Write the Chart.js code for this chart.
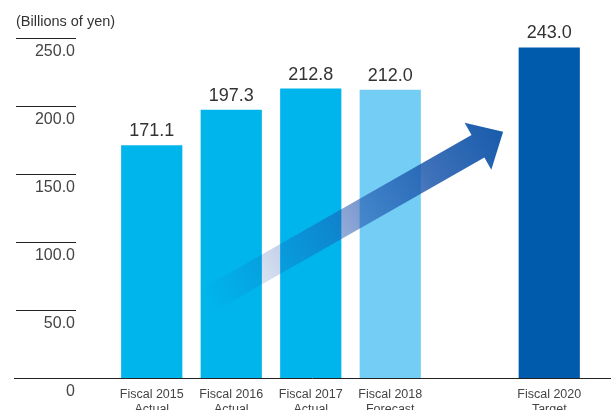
<!DOCTYPE html>
<html>
<head>
<meta charset="utf-8">
<script src="https://cdn.jsdelivr.net/npm/chart.js@4/dist/chart.umd.min.js"></script>
<style>
  html, body { margin: 0; padding: 0; background: #fff; }
</style>
</head>
<body>
<canvas id="grafico" width="611" height="410"></canvas>
<script>
// datos del gráfico
const categorias = [
  ["Fiscal 2015", "Actual"],
  ["Fiscal 2016", "Actual"],
  ["Fiscal 2017", "Actual"],
  ["Fiscal 2018", "Forecast"],
  ["", ""],
  ["Fiscal 2020", "Target"]
];
const valores = [171.1, 197.3, 212.8, 212.0, null, 243.0];
const colores = ["#00b5ec", "#00b5ec", "#00b5ec", "#73cdf4", "#ffffff", "#005bac"];
const ticksY = [0, 50, 100, 150, 200, 250];
const tituloY = "(Billions of yen)";

const fuente = "'Liberation Sans', Arial, sans-serif";

// líneas cortas de los ticks y la línea base
const lineasEje = {
  id: "lineasEje",
  afterDraw(chart) {
    const ctx = chart.ctx;
    const y = chart.scales.y;
    ctx.save();
    ctx.strokeStyle = "#222";
    ctx.lineWidth = 1;
    ticksY.forEach(v => {
      const py = Math.round(y.getPixelForValue(v)) + 0.5;
      ctx.beginPath();
      if (v === 0) {
        ctx.moveTo(14, py);
        ctx.lineTo(chart.width, py);
      } else {
        ctx.moveTo(16, py);
        ctx.lineTo(76, py);
      }
      ctx.stroke();
    });
    ctx.fillStyle = "#333";
    ctx.font = "14.5px " + fuente;
    ctx.textBaseline = "middle";
    ctx.textAlign = "left";
    ctx.fillText(tituloY, 16, 22);
    ctx.restore();
  }
};

// flecha con degradado (en coordenadas de las escalas)
const flecha = {
  id: "flecha",
  afterDatasetsDraw(chart) {
    const ctx = chart.ctx;
    const x = chart.scales.x;
    const y = chart.scales.y;
    const paso = x.getPixelForValue(1) - x.getPixelForValue(0);
    const x0 = x.getPixelForValue(0) + 0.70 * paso;
    const y0 = y.getPixelForValue(57);
    const x1 = x.getPixelForValue(0) + 4.42 * paso;
    const y1 = y.getPixelForValue(181);
    const ang = Math.atan2(y1 - y0, x1 - x0);
    const largo = Math.hypot(x1 - x0, y1 - y0);
    const cabeza = 29, mitadCabeza = 27, mitadAsta = 13;

    ctx.save();
    ctx.translate(x0, y0);
    ctx.rotate(ang);
    const g = ctx.createLinearGradient(0, 0, largo, 0);
    g.addColorStop(0, "rgba(30,80,172,0)");
    g.addColorStop(0.25, "rgba(30,80,172,0.25)");
    g.addColorStop(0.5, "rgba(30,80,172,0.55)");
    g.addColorStop(0.75, "rgba(28,88,172,0.85)");
    g.addColorStop(1, "rgba(24,92,172,1)");
    ctx.fillStyle = g;
    ctx.beginPath();
    ctx.moveTo(0, -mitadAsta);
    ctx.lineTo(largo - cabeza, -mitadAsta);
    ctx.lineTo(largo - cabeza, -mitadCabeza);
    ctx.lineTo(largo, 0);
    ctx.lineTo(largo - cabeza, mitadCabeza);
    ctx.lineTo(largo - cabeza, mitadAsta);
    ctx.lineTo(0, mitadAsta);
    ctx.closePath();
    ctx.fill();
    ctx.restore();
  }
};

// valores encima de cada barra
const etiquetasValor = {
  id: "etiquetasValor",
  afterDatasetsDraw(chart) {
    const ctx = chart.ctx;
    const meta = chart.getDatasetMeta(0);
    ctx.save();
    ctx.fillStyle = "#333";
    ctx.font = "18px " + fuente;
    ctx.textAlign = "center";
    ctx.textBaseline = "bottom";
    meta.data.forEach((bar, i) => {
      if (valores[i] == null) return;
      ctx.fillText(valores[i].toFixed(1), bar.x, bar.y - 5);
    });
    ctx.restore();
  }
};

const sinRelleno = s => {
  s.paddingTop = 0;
  s.paddingBottom = 0;
  s.paddingLeft = 0;
  s.paddingRight = 0;
};

new Chart(document.getElementById("grafico"), {
  type: "bar",
  data: {
    labels: categorias,
    datasets: [{
      data: valores,
      backgroundColor: colores,
      borderWidth: 0,
      categoryPercentage: 1,
      barPercentage: 0.77
    }]
  },
  options: {
    responsive: false,
    animation: false,
    layout: { padding: { top: 38, right: 22, left: 0, bottom: 0 } },
    plugins: {
      legend: { display: false },
      tooltip: { enabled: false }
    },
    scales: {
      y: {
        min: 0,
        max: 250,
        afterFit: s => { s.width = 112; sinRelleno(s); },
        grid: { display: false, drawTicks: false },
        border: { display: false },
        ticks: {
          stepSize: 50,
          padding: 37,
          labelOffset: 14,
          color: "#444",
          font: { family: fuente, size: 16 },
          callback: v => v === 0 ? "0" : v.toFixed(1)
        }
      },
      x: {
        afterFit: s => { s.height = 32; sinRelleno(s); },
        grid: { display: false, drawTicks: false },
        border: { display: false },
        ticks: {
          padding: 9,
          color: "#444",
          maxRotation: 0,
          autoSkip: false,
          font: { family: fuente, size: 12.5 }
        }
      }
    }
  },
  plugins: [lineasEje, flecha, etiquetasValor]
});
</script>
</body>
</html>
